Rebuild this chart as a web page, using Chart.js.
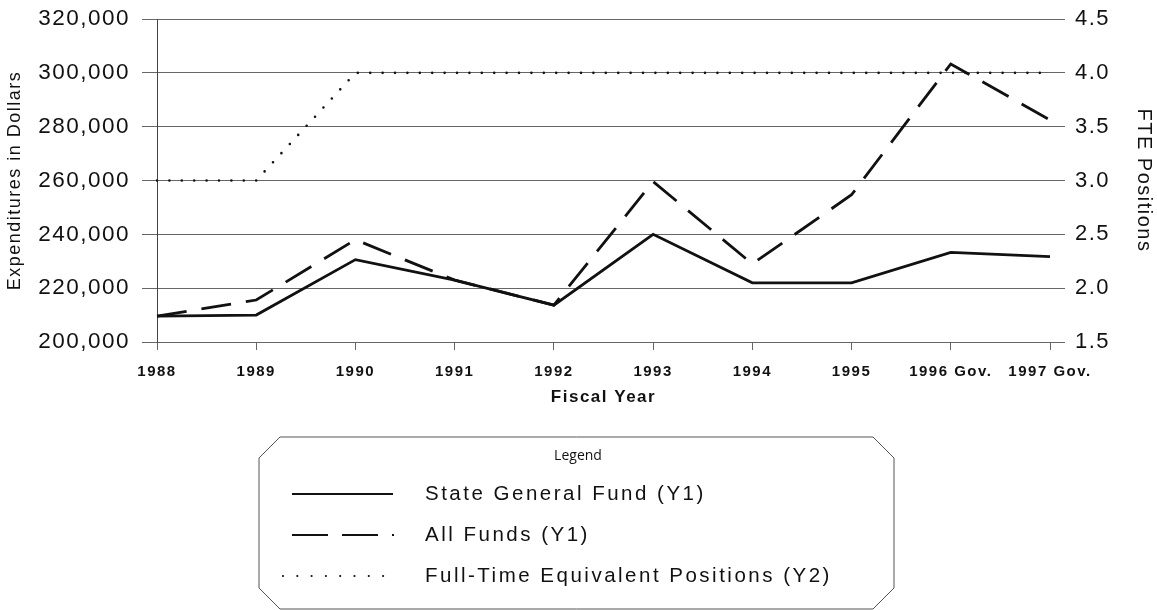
<!DOCTYPE html>
<html>
<head>
<meta charset="utf-8">
<script src="https://cdn.jsdelivr.net/npm/chart.js@4"></script>
<style>
  html, body { margin: 0; padding: 0; background: #fff; }
  #wrap { width: 1157px; height: 610px; }
</style>
</head>
<body>
<div id="wrap"><canvas id="c" width="1157" height="610"></canvas></div>
<script>
// ---- data ----
const categories = ['1988', '1989', '1990', '1991', '1992', '1993', '1994', '1995', '1996 Gov.', '1997 Gov.'];
const stateGeneralFund = [209600, 210000, 230600, 223000, 213700, 240000, 222000, 222000, 233300, 231700];
const allFunds = [209600, 215600, 238000, 223000, 213700, 259600, 229000, 254700, 303300, 282500];
const ftePositions = [3.0, 3.0, 4.0, 4.0, 4.0, 4.0, 4.0, 4.0, 4.0, 4.0];
const seriesLabels = ['State General Fund (Y1)', 'All Funds (Y1)', 'Full-Time Equivalent Positions (Y2)'];
const legendTitle = 'Legend';
const xTitle = 'Fiscal Year';
const yLeftTitle = 'Expenditures in Dollars';
const yRightTitle = 'FTE Positions';

const FONT = "'Liberation Sans', Arial, sans-serif";
const INK = '#111';
const GRID = '#666';

const spacingPlugin = {
  id: 'spacing',
  beforeLayout(chart) { chart.ctx.letterSpacing = '1.5px'; },
  beforeDraw(chart) { chart.ctx.letterSpacing = '1.5px'; }
};

// custom legend with bevelled box
const legendPlugin = {
  id: 'boxLegend',
  afterDraw(chart) {
    const ctx = chart.ctx;
    ctx.save();
    ctx.letterSpacing = '0px';
    const L = 259, R = 894, T = 437, B = 609, bv = 21;
    ctx.beginPath();
    ctx.moveTo(L + bv, T); ctx.lineTo(R - bv, T); ctx.lineTo(R, T + bv);
    ctx.lineTo(R, B - bv); ctx.lineTo(R - bv, B); ctx.lineTo(L + bv, B);
    ctx.lineTo(L, B - bv); ctx.lineTo(L, T + bv); ctx.closePath();
    ctx.strokeStyle = '#555'; ctx.lineWidth = 1; ctx.stroke();
    ctx.fillStyle = INK;
    ctx.font = "14px 'Open Sans', sans-serif";
    ctx.textAlign = 'center'; ctx.textBaseline = 'middle';
    ctx.fillText(legendTitle, 578, 456);
    const rows = [
      { y: 494, dash: [], x0: 292, x1: 393, cap: 'butt', w: 2 },
      { y: 535, dash: [36, 14, 36, 14, 2, 60], x0: 292, x1: 394, cap: 'butt', w: 2 },
      { y: 576, dash: [0, 14.3], x0: 283, x1: 386, cap: 'round', w: 2.2 }
    ];
    chart.data.datasets.forEach((ds, i) => {
      const r = rows[i];
      ctx.beginPath();
      ctx.setLineDash(r.dash);
      ctx.lineCap = r.cap;
      ctx.lineWidth = r.w;
      ctx.strokeStyle = ds.borderColor;
      ctx.moveTo(r.x0, r.y); ctx.lineTo(r.x1, r.y);
      ctx.stroke();
      ctx.setLineDash([]);
      ctx.letterSpacing = '2.5px';
      ctx.font = '20.5px ' + FONT;
      ctx.textAlign = 'left';
      ctx.fillStyle = INK;
      ctx.fillText(ds.label, 425, r.y);
      ctx.letterSpacing = '0px';
    });
    ctx.restore();
  }
};

function fixVertical(width) {
  return function (scale) {
    scale.width = width;
    scale.paddingTop = 0;
    scale.paddingBottom = 0;
  };
}

new Chart(document.getElementById('c'), {
  type: 'line',
  data: {
    labels: categories,
    datasets: [
      { label: seriesLabels[0], data: stateGeneralFund, yAxisID: 'y', borderColor: '#111', borderWidth: 2.8, pointRadius: 0, tension: 0, fill: false },
      { label: seriesLabels[1], data: allFunds, yAxisID: 'y', borderColor: '#111', borderWidth: 2.8, borderDash: [30, 15], pointRadius: 0, tension: 0, fill: false },
      { label: seriesLabels[2], data: ftePositions, yAxisID: 'y1', borderColor: '#111', borderWidth: 2.6, borderDash: [0, 12.4], borderCapStyle: 'round', pointRadius: 0, tension: 0, fill: false }
    ]
  },
  options: {
    responsive: false,
    animation: false,
    devicePixelRatio: 1,
    layout: { padding: { top: 19, left: 0, right: 0, bottom: 202 } },
    plugins: { legend: { display: false }, tooltip: { enabled: false } },
    scales: {
      x: {
        type: 'category',
        offset: false,
        grid: { drawOnChartArea: false, drawTicks: true, tickLength: 8, color: GRID, lineWidth: 1 },
        border: { display: true, color: GRID },
        ticks: { color: INK, font: { family: FONT, size: 15, weight: 'bold' }, padding: 13, maxRotation: 0, autoSkip: false },
        title: { display: true, text: xTitle, color: INK, font: { family: FONT, size: 17, weight: 'bold' }, padding: { top: 0, bottom: 0 } },
        afterFit(scale) { scale.height = 66; }
      },
      y: {
        position: 'left',
        min: 200000, max: 320000,
        grid: { drawOnChartArea: true, drawTicks: true, tickLength: 15, color: GRID, lineWidth: 1 },
        border: { display: true, color: '#444' },
        ticks: { stepSize: 20000, color: INK, font: { family: FONT, size: 22.5 }, padding: 12,
          callback: v => v.toLocaleString('en-US') },
        title: { display: true, text: yLeftTitle, color: INK, font: { family: FONT, size: 18 }, padding: { top: 4, bottom: 0 } },
        afterFit: fixVertical(157)
      },
      y1: {
        position: 'right',
        min: 1.5, max: 4.5,
        grid: { drawOnChartArea: false, drawTicks: true, tickLength: 15, color: GRID, lineWidth: 1 },
        border: { display: false },
        ticks: { stepSize: 0.5, color: INK, font: { family: FONT, size: 22 }, padding: 10,
          callback: v => Number(v).toFixed(1) },
        title: { display: true, text: yRightTitle, color: INK, font: { family: FONT, size: 20 }, padding: { top: 1, bottom: 0 } },
        afterFit: fixVertical(107)
      }
    }
  },
  plugins: [spacingPlugin, legendPlugin]
});
</script>
</body>
</html>
